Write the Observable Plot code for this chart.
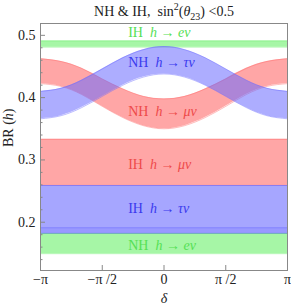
<!DOCTYPE html>
<html><head><meta charset="utf-8">
<script src="https://cdn.jsdelivr.net/npm/d3@7"></script>
<script src="https://cdn.jsdelivr.net/npm/@observablehq/plot@0.6"></script>
<style>body{margin:0;background:#fff}</style>
</head><body><div id="chart"></div>
<script>
// δ in units of π
const deltaPi = [-1, -5/6, -2/3, -1/2, -1/3, -1/6, 0, 1/6, 1/3, 1/2, 2/3, 5/6, 1];
// NH h→τν band (blue)
const nhTauLo = [0.366, 0.371, 0.384, 0.402, 0.420, 0.433, 0.438, 0.433, 0.420, 0.402, 0.384, 0.371, 0.366];
const nhTauHi = [0.410, 0.415, 0.428, 0.446, 0.464, 0.477, 0.482, 0.477, 0.464, 0.446, 0.428, 0.415, 0.410];
// NH h→μν band (red)
const nhMuLo = [0.4225, 0.418, 0.405, 0.386, 0.368, 0.355, 0.350, 0.355, 0.368, 0.386, 0.405, 0.418, 0.4225];
const nhMuHi = [0.4625, 0.458, 0.447, 0.430, 0.414, 0.402, 0.398, 0.402, 0.414, 0.430, 0.447, 0.458, 0.4625];
// flat bands
const flatDelta = [-1, 1];
const ihELo = 0.481, ihEHi = 0.491;
const ihMuLo = 0.259, ihMuHi = 0.333;
const ihTauLo = 0.182, ihTauHi = 0.259;
const ihTauEdgeLo = 0.182, ihTauEdgeHi = 0.191;
const nhELo = 0.1495, nhEHi = 0.182;

const xTicks = [-1, -0.5, 0, 0.5, 1];
const xTickLabels = ["−π", "−π /2", "0", "π /2", "π"];
const yMajor = [0.2, 0.3, 0.4, 0.5];
const yTickLabels = ["0.2", "0.3", "0.4", "0.5"];
const yMinor = [0.14, 0.16, 0.18, 0.22, 0.24, 0.26, 0.28, 0.32, 0.34, 0.36, 0.38, 0.42, 0.44, 0.46, 0.48];

const labelHier = ["IH", "NH", "NH", "IH", "IH", "NH"];
const labelChan = ["h → eν", "h → τν", "h → μν", "h → μν", "h → τν", "h → eν"];
const labelY = [0.5053, 0.456, 0.377, 0.293, 0.222, 0.163];
const labelX = [-0.29, -0.29, -0.29, -0.29, -0.29, -0.29];
const labelColor = ["#55e055", "#3a3aee", "#ee4a4a", "#ee4a4a", "#3a3aee", "#55e055"];

const RED = "#ff6a6a", BLUE = "#6a6aff", GREEN = "#6af06a";

function curveRows(lo, hi) { return deltaPi.map((d, i) => ({d, lo: lo[i], hi: hi[i]})); }
function flatRows(lo, hi) { return flatDelta.map(d => ({d, lo, hi})); }

const bands = [
  {rows: flatRows(ihMuLo, ihMuHi), color: RED, op: 0.6},
  {rows: flatRows(ihTauLo, ihTauHi), color: BLUE, op: 0.6},
  {rows: flatRows(nhELo, nhEHi), color: GREEN, op: 0.6},
  {rows: flatRows(ihTauEdgeLo, ihTauEdgeHi), color: BLUE, op: 0.2},
  {rows: flatRows(ihELo, ihEHi), color: GREEN, op: 0.6},
  {rows: curveRows(nhMuLo, nhMuHi), color: RED, op: 0.6},
  {rows: curveRows(nhTauLo, nhTauHi), color: BLUE, op: 0.55},
];

const marks = [];
for (const b of bands) {
  marks.push(Plot.areaY(b.rows, {x: "d", y1: "lo", y2: "hi", fill: b.color, fillOpacity: b.op, curve: "natural"}));
  marks.push(Plot.lineY(b.rows, {x: "d", y: "lo", stroke: b.color, strokeOpacity: 0.45, strokeWidth: 1, curve: "natural"}));
  marks.push(Plot.lineY(b.rows, {x: "d", y: "hi", stroke: b.color, strokeOpacity: 0.45, strokeWidth: 1, curve: "natural"}));
}

const labels = labelHier.map((h, i) => ({text: h + "  " + labelChan[i], x: labelX[i], y: labelY[i], c: labelColor[i]}));

const FONT = "Liberation Serif, Times New Roman, serif";
const chart = Plot.plot({
  width: 291, height: 307,
  marginLeft: 40, marginRight: 4, marginTop: 23, marginBottom: 37,
  style: {fontFamily: FONT, fontSize: "14px", background: "#fff"},
  x: {domain: [-1, 1], axis: null},
  y: {domain: [0.1225, 0.519], axis: null},
  marks: [
    ...marks,
    Plot.text(labels, {x: "x", y: "y", text: "text", fill: "c", textAnchor: "start", fontSize: 14}),
    Plot.tickX(xTicks, {stroke: "#888", insetTop: 242}),
    Plot.tickY(yMajor, {stroke: "#888", insetRight: 242}),
    Plot.tickY(yMinor, {stroke: "#888", insetRight: 244.5}),
    Plot.axisX(xTicks, {tickSize: 0, tickPadding: 4, tickFormat: d => xTickLabels[xTicks.indexOf(d)], fontSize: 14, fill: "#222", label: null}),
    Plot.axisY(yMajor, {tickSize: 0, tickPadding: 5, tickFormat: d => yTickLabels[yMajor.indexOf(d)], fontSize: 14, fill: "#222", label: null}),
    Plot.frame({stroke: "#888"}),
    Plot.text(["TITLE"], {frameAnchor: "top", lineAnchor: "middle", dy: -12, fontSize: 14, fill: "#222"}),
    Plot.text(["YLABEL"], {frameAnchor: "left", dx: -32, rotate: -90, fontSize: 14, fill: "#222"}),
    Plot.text(["XLABEL"], {frameAnchor: "bottom", lineAnchor: "middle", dy: 28, fontSize: 14, fill: "#222"})
  ]
});
document.getElementById("chart").appendChild(chart);

function rich(el, parts) {
  const t = d3.select(el); t.text(null);
  for (const p of parts) {
    const ts = t.append("tspan").text(p.t);
    if (p.i) ts.attr("font-style", "italic");
    if (p.fs) ts.attr("font-size", p.fs);
    if (p.dy) ts.attr("dy", p.dy);
  }
}
const svg = chart.tagName === "svg" ? chart : chart.querySelector("svg");
svg.querySelectorAll("text").forEach(el => {
  const s = el.textContent;
  if (s === "TITLE") {
    rich(el, [{t: "NH & IH,  sin"}, {t: "2", fs: 10, dy: -6}, {t: "(", dy: 6}, {t: "θ", i: true},
              {t: "23", fs: 10, dy: 4}, {t: ") <0.5", dy: -4}]);
  } else if (s === "YLABEL") {
    rich(el, [{t: "BR ("}, {t: "h", i: true}, {t: ")"}]);
  } else if (s === "XLABEL") {
    rich(el, [{t: "δ", i: true}]);
  } else {
    const k = labels.findIndex(l => l.text === s);
    if (k >= 0) rich(el, [{t: labelHier[k] + "  "}, {t: labelChan[k], i: true}]);
  }
});
</script>
</body></html>
